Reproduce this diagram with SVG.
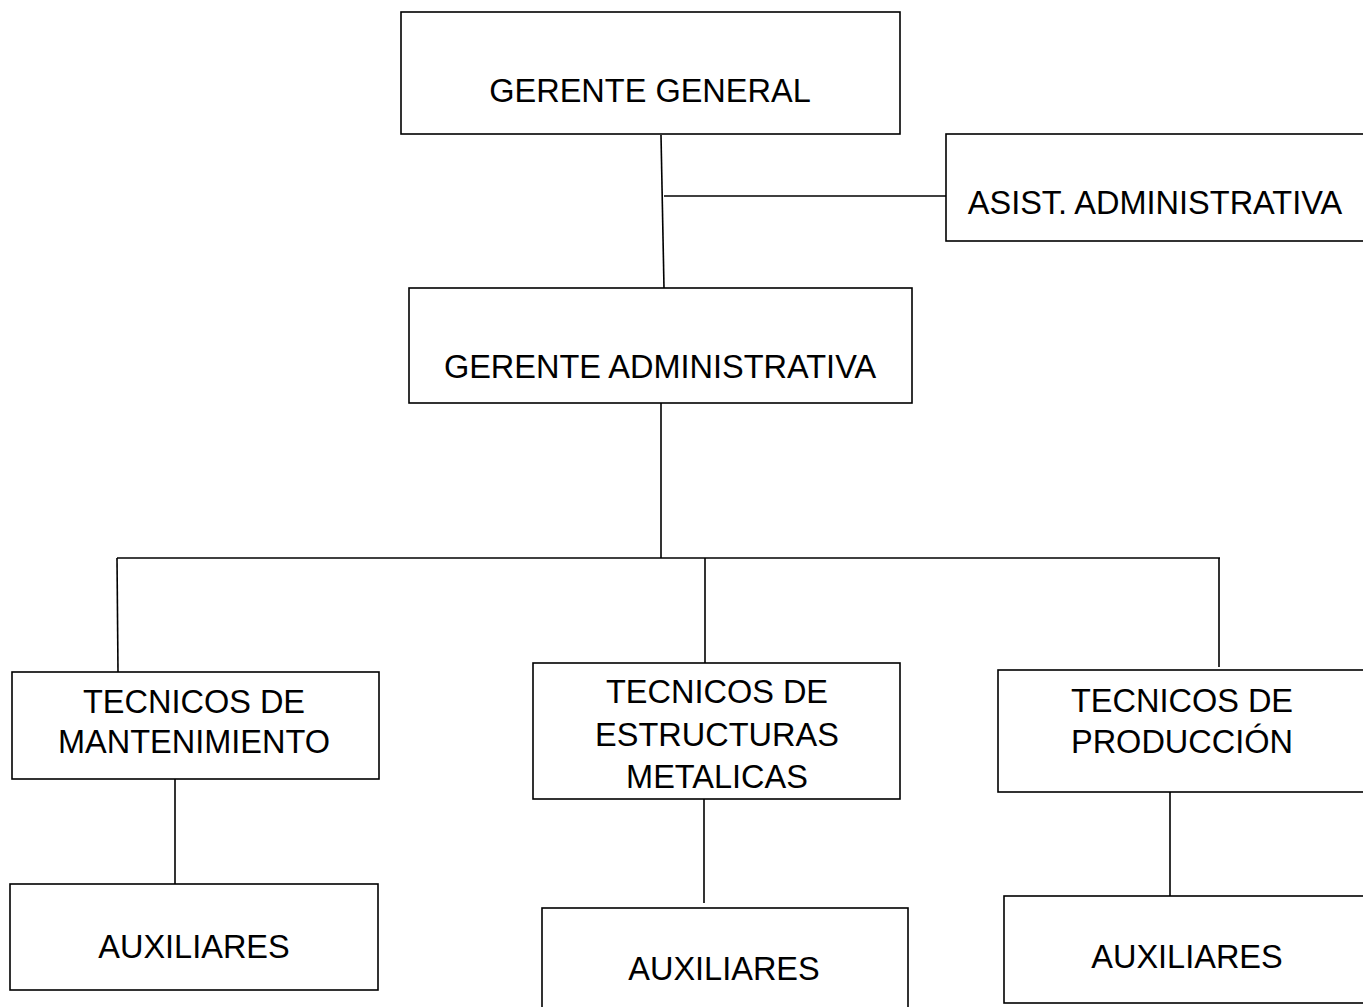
<svg xmlns="http://www.w3.org/2000/svg" width="1363" height="1007" viewBox="0 0 1363 1007">
<style>
.box{fill:#fff;stroke:#000;stroke-width:1.6}
.ln{fill:none;stroke:#000;stroke-width:1.6}
text{font-family:"Liberation Sans",Arial,sans-serif;font-size:32.5px;fill:#000;text-anchor:middle}
</style>
<rect width="1363" height="1007" fill="#fff"/>
<g id="connectors">
<line class="ln" x1="661" y1="135" x2="664" y2="288"/>
<line class="ln" x1="664" y1="196" x2="946" y2="196"/>
<line class="ln" x1="661" y1="403" x2="661" y2="558"/>
<line class="ln" x1="117" y1="558" x2="1220" y2="558"/>
<line class="ln" x1="117" y1="558" x2="118" y2="672"/>
<line class="ln" x1="705" y1="558" x2="705" y2="663"/>
<line class="ln" x1="1219" y1="558" x2="1219" y2="667"/>
<line class="ln" x1="175" y1="779" x2="175" y2="884"/>
<line class="ln" x1="704" y1="799" x2="704" y2="903"/>
<line class="ln" x1="1170" y1="792" x2="1170" y2="896"/>
</g>
<g id="gerente-general">
<rect class="box" x="401" y="12" width="499" height="122"/>
<text x="650" y="102">GERENTE GENERAL</text>
</g>
<g id="asist-administrativa">
<rect class="box" x="946" y="134" width="430" height="107"/>
<text x="1155" y="214">ASIST. ADMINISTRATIVA</text>
</g>
<g id="gerente-administrativa">
<rect class="box" x="409" y="288" width="503" height="115"/>
<text x="660" y="378">GERENTE ADMINISTRATIVA</text>
</g>
<g id="tecnicos-mantenimiento">
<rect class="box" x="12" y="672" width="367" height="107"/>
<text x="194" y="713">TECNICOS DE</text>
<text x="194" y="753">MANTENIMIENTO</text>
</g>
<g id="tecnicos-estructuras">
<rect class="box" x="533" y="663" width="367" height="136"/>
<text x="717" y="703">TECNICOS DE</text>
<text x="717" y="746">ESTRUCTURAS</text>
<text x="717" y="788">METALICAS</text>
</g>
<g id="tecnicos-produccion">
<rect class="box" x="998" y="670" width="380" height="122"/>
<text x="1182" y="712">TECNICOS DE</text>
<text x="1182" y="753">PRODUCCIÓN</text>
</g>
<g id="auxiliares-1">
<rect class="box" x="10" y="884" width="368" height="106"/>
<text x="194" y="958">AUXILIARES</text>
</g>
<g id="auxiliares-2">
<rect class="box" x="542" y="908" width="366" height="110"/>
<text x="724" y="980">AUXILIARES</text>
</g>
<g id="auxiliares-3">
<rect class="box" x="1004" y="896" width="375" height="107"/>
<text x="1187" y="968">AUXILIARES</text>
</g>
</svg>
